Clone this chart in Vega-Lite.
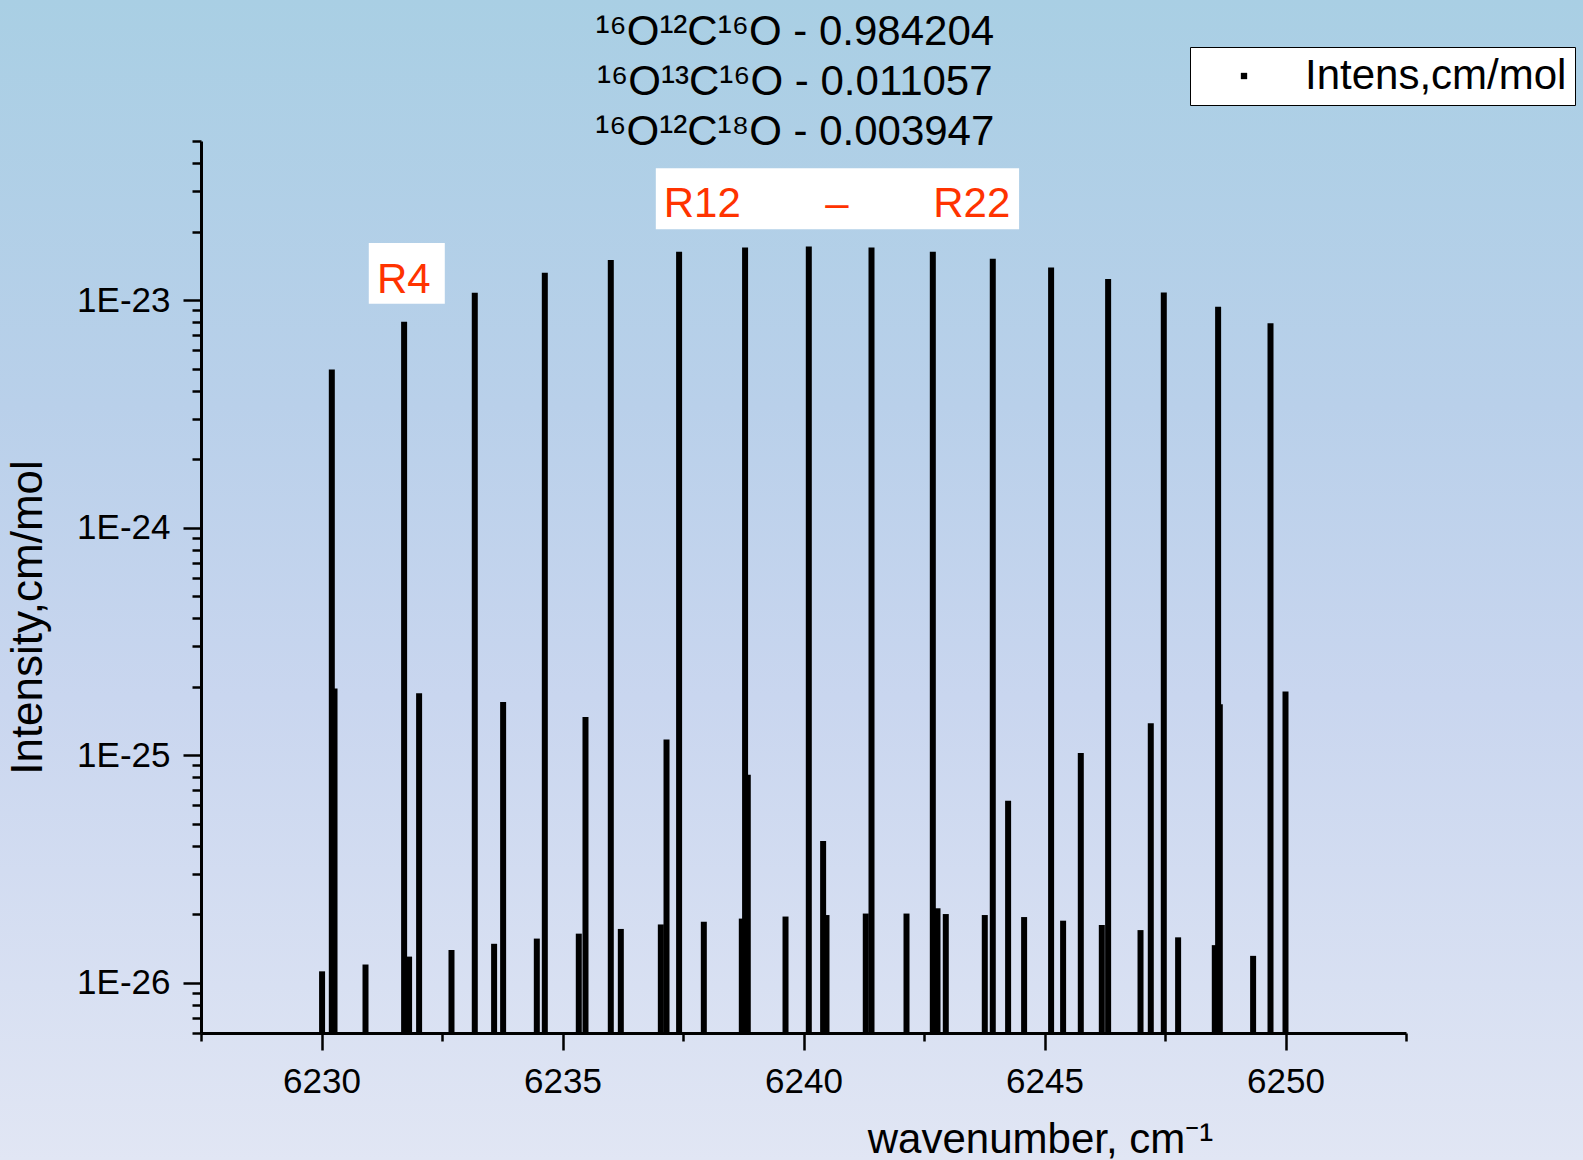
{
  "$schema": "https://vega.github.io/schema/vega-lite/v6.json",
  "width": 1205,
  "height": 892,
  "autosize": {"type": "none"},
  "padding": {"left": 201, "top": 141, "right": 177, "bottom": 127},
  "background": "#c6d6ec",
  "config": {"font": "Liberation Sans", "view": {"stroke": null}},
  "layer": [
    {
      "data": {"values": [{}]},
      "mark": {
        "type": "rect",
        "fill": {
          "gradient": "linear", "x1": 0, "y1": 0, "x2": 0, "y2": 1,
          "stops": [
            {"offset": 0, "color": "#a9cfe4"},
            {"offset": 0.35, "color": "#b9d0ea"},
            {"offset": 0.6, "color": "#c9d6ef"},
            {"offset": 1, "color": "#e1e6f4"}
          ]
        }
      },
      "encoding": {
        "x": {"datum": 6223.2, "type": "quantitative"},
        "x2": {"datum": 6256.3},
        "y": {"datum": 2.1e-22, "type": "quantitative"},
        "y2": {"datum": 1.65e-27}
      }
    },
    {
      "data": {"values": [{}]},
      "mark": {"type": "rect", "fill": "white"},
      "encoding": {
        "x": {"datum": 6230.981, "type": "quantitative"},
        "x2": {"datum": 6232.558},
        "y": {"datum": 1.78e-23, "type": "quantitative"},
        "y2": {"datum": 9.63e-24}
      }
    },
    {
      "data": {"values": [{}]},
      "mark": {"type": "rect", "fill": "white"},
      "encoding": {
        "x": {"datum": 6236.936, "type": "quantitative"},
        "x2": {"datum": 6244.473},
        "y": {"datum": 3.792e-23, "type": "quantitative"},
        "y2": {"datum": 2.045e-23}
      }
    },
    {
      "data": {"values": [
        {"w": 6230.214, "I": 4.95e-24}, {"w": 6231.714, "I": 8.03e-24}, {"w": 6233.180, "I": 1.076e-23},
        {"w": 6234.633, "I": 1.318e-23}, {"w": 6236.002, "I": 1.50e-23}, {"w": 6237.419, "I": 1.63e-23},
        {"w": 6238.788, "I": 1.70e-23}, {"w": 6240.110, "I": 1.72e-23}, {"w": 6241.411, "I": 1.70e-23},
        {"w": 6242.683, "I": 1.63e-23}, {"w": 6243.927, "I": 1.52e-23}, {"w": 6245.137, "I": 1.39e-23},
        {"w": 6246.320, "I": 1.236e-23}, {"w": 6247.475, "I": 1.08e-23}, {"w": 6248.602, "I": 9.35e-24},
        {"w": 6249.689, "I": 7.9e-24},
        {"w": 6230.270, "I": 1.96e-25}, {"w": 6232.025, "I": 1.87e-25}, {"w": 6233.768, "I": 1.71e-25},
        {"w": 6235.477, "I": 1.47e-25}, {"w": 6237.158, "I": 1.17e-25}, {"w": 6238.844, "I": 8.2e-26},
        {"w": 6240.407, "I": 4.19e-26}, {"w": 6244.245, "I": 6.3e-26}, {"w": 6245.753, "I": 1.02e-25},
        {"w": 6247.205, "I": 1.38e-25}, {"w": 6248.637, "I": 1.67e-25}, {"w": 6250.000, "I": 1.9e-25},
        {"w": 6230.012, "I": 1.12e-26}, {"w": 6230.913, "I": 1.20e-26}, {"w": 6231.817, "I": 1.30e-26},
        {"w": 6232.697, "I": 1.39e-26}, {"w": 6233.581, "I": 1.48e-26}, {"w": 6234.467, "I": 1.56e-26},
        {"w": 6235.338, "I": 1.64e-26}, {"w": 6236.210, "I": 1.72e-26}, {"w": 6237.040, "I": 1.80e-26},
        {"w": 6237.932, "I": 1.85e-26}, {"w": 6238.720, "I": 1.91e-26}, {"w": 6239.627, "I": 1.95e-26},
        {"w": 6240.477, "I": 1.98e-26}, {"w": 6241.292, "I": 2.01e-26}, {"w": 6242.137, "I": 2.01e-26},
        {"w": 6242.780, "I": 2.12e-26}, {"w": 6242.952, "I": 2.0e-26}, {"w": 6243.761, "I": 1.98e-26},
        {"w": 6244.577, "I": 1.94e-26}, {"w": 6245.386, "I": 1.87e-26}, {"w": 6246.189, "I": 1.79e-26},
        {"w": 6246.992, "I": 1.70e-26}, {"w": 6247.772, "I": 1.58e-26}, {"w": 6248.533, "I": 1.46e-26},
        {"w": 6249.328, "I": 1.31e-26}
      ]},
      "mark": {"type": "rule", "strokeWidth": 6, "strokeCap": "butt"},
      "encoding": {
        "x": {
          "field": "w", "type": "quantitative",
          "scale": {"domain": [6227.5, 6252.5], "nice": false, "zero": false},
          "axis": {
            "title": "wavenumber, cm⁻¹",
            "values": [6227.5, 6230, 6232.5, 6235, 6237.5, 6240, 6242.5, 6245, 6247.5, 6250, 6252.5],
            "format": "d",
            "labelExpr": "datum.value % 5 == 0 ? datum.label : ''",
            "tickSize": {"condition": {"test": "datum.value % 5 == 0", "value": 17}, "value": 8},
            "tickWidth": 2.5, "tickColor": "black",
            "domainColor": "black", "domainWidth": 3,
            "labelFontSize": 35, "labelColor": "black", "labelPadding": 14,
            "labelFlush": false, "labelOverlap": false,
            "grid": false,
            "titleFontSize": 42, "titleFontWeight": "normal", "titleColor": "black",
            "titleX": 839, "titleY": 119, "titleAlign": "center", "titleBaseline": "alphabetic",
            "zindex": 1
          }
        },
        "y": {
          "field": "I", "type": "quantitative",
          "scale": {"type": "log", "domain": [6e-27, 5e-23], "nice": false},
          "axis": {
            "title": "Intensity,cm/mol",
            "values": [6e-27, 7e-27, 8e-27, 9e-27,
              1e-26, 2e-26, 3e-26, 4e-26, 5e-26, 6e-26, 7e-26, 8e-26, 9e-26,
              1e-25, 2e-25, 3e-25, 4e-25, 5e-25, 6e-25, 7e-25, 8e-25, 9e-25,
              1e-24, 2e-24, 3e-24, 4e-24, 5e-24, 6e-24, 7e-24, 8e-24, 9e-24,
              1e-23, 2e-23, 3e-23, 4e-23, 5e-23],
            "labelExpr": "abs(log(datum.value)/LN10 - round(log(datum.value)/LN10)) < 0.001 ? '1E' + round(log(datum.value)/LN10) : ''",
            "tickSize": {"condition": {"test": "abs(log(datum.value)/LN10 - round(log(datum.value)/LN10)) < 0.001", "value": 18}, "value": 9},
            "tickWidth": 2.5, "tickColor": "black",
            "domainColor": "black", "domainWidth": 3,
            "labelFontSize": 35, "labelColor": "black", "labelPadding": 13,
            "labelFlush": false, "labelOverlap": false,
            "grid": false,
            "titleFontSize": 44, "titleFontWeight": "normal", "titleColor": "black",
            "titleX": -160, "titleY": 476, "titleAlign": "center", "titleBaseline": "alphabetic", "titleAngle": -90,
            "zindex": 1
          }
        },
        "y2": {"datum": 6e-27},
        "color": {
          "datum": "Intens,cm/mol", "type": "nominal",
          "scale": {"range": ["black"]},
          "legend": {
            "orient": "none", "legendX": 989, "legendY": -94,
            "title": null,
            "strokeColor": "black", "fillColor": "white", "padding": 8,
            "labelFontSize": 42, "labelColor": "black", "labelFont": "Liberation Sans", "labelLimit": 500,
            "symbolType": "square", "symbolSize": 40,
            "symbolFillColor": "black", "symbolStrokeColor": "black", "symbolStrokeWidth": 0,
            "symbolOffset": 25, "labelOffset": 40,
            "zindex": 1,
            "encode": {"symbols": {"update": {"fill": {"value": "black"}, "stroke": {"value": "black"}, "shape": {"value": "square"}}}}
          }
        }
      }
    },
    {
      "data": {"values": [{}]},
      "mark": {"type": "text", "text": ["¹⁶O¹²C¹⁶O - 0.984204", "¹⁶O¹³C¹⁶O - 0.011057", "¹⁶O¹²C¹⁸O - 0.003947"], "color": "black", "fontSize": 42, "lineHeight": 50, "align": "center", "baseline": "alphabetic"},
      "encoding": {"x": {"datum": 6239.819, "type": "quantitative"}, "y": {"datum": 1.321e-22, "type": "quantitative"}}
    },
    {
      "data": {"values": [{}]},
      "mark": {"type": "text", "text": "R4", "color": "#ff3300", "fontSize": 42, "align": "center", "baseline": "alphabetic"},
      "encoding": {"x": {"datum": 6231.707, "type": "quantitative"}, "y": {"datum": 1.07e-23, "type": "quantitative"}}
    },
    {
      "data": {"values": [{}]},
      "mark": {"type": "text", "text": "R12", "color": "#ff3300", "fontSize": 42, "align": "center", "baseline": "alphabetic"},
      "encoding": {"x": {"datum": 6237.9, "type": "quantitative"}, "y": {"datum": 2.323e-23, "type": "quantitative"}}
    },
    {
      "data": {"values": [{}]},
      "mark": {"type": "text", "text": "–", "color": "#ff3300", "fontSize": 42, "align": "center", "baseline": "alphabetic"},
      "encoding": {"x": {"datum": 6240.691, "type": "quantitative"}, "y": {"datum": 2.323e-23, "type": "quantitative"}}
    },
    {
      "data": {"values": [{}]},
      "mark": {"type": "text", "text": "R22", "color": "#ff3300", "fontSize": 42, "align": "center", "baseline": "alphabetic"},
      "encoding": {"x": {"datum": 6243.492, "type": "quantitative"}, "y": {"datum": 2.323e-23, "type": "quantitative"}}
    }
  ]
}
